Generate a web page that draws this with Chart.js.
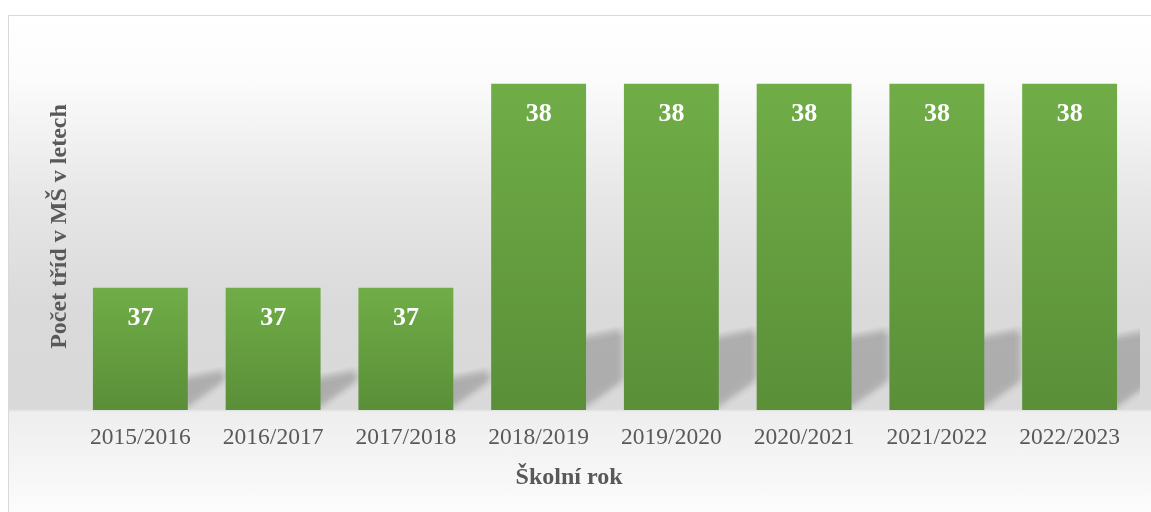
<!DOCTYPE html>
<html lang="cs">

<head>
    <meta charset="UTF-8">
    <title>Počet tříd v MŠ</title>
    <script src="https://cdn.jsdelivr.net/npm/chart.js"></script>
    <style>
        body { margin: 0; background: #fff; overflow: hidden; }
        #frame {
            position: absolute; left: 8px; top: 15px; width: 1200px; height: 560px;
            border: 1px solid #d9d9d9;
            background: linear-gradient(to bottom, #ffffff 0px, #fcfcfc 60px, #e6e6e6 185px,
                #dadada 290px, #d9d9d9 393px, #eeeeee 396px, #f4f4f4 440px, #fdfdfd 500px);
        }
        #wrap { position: absolute; left: 0; top: 0; width: 1151px; height: 512px; }
    </style>
</head>

<body>
    <div id="frame"></div>
    <div id="wrap"><canvas id="chart" width="1151" height="512"></canvas></div>

    <script>
        // data
        const years = ['2015/2016', '2016/2017', '2017/2018', '2018/2019', '2019/2020', '2020/2021', '2021/2022', '2022/2023'];
        const classCount = [37, 37, 37, 38, 38, 38, 38, 38];
        const yMin = 36.4;
        const yMax = 38.2;
        const xTitle = 'Školní rok';

        const textGray = '#595959';
        const serif = "'Liberation Serif', 'Times New Roman', serif";

        // soft perspective shadow behind each bar, blurred by stacking faint copies
        const barShadow = {
            id: 'barShadow',
            beforeDatasetsDraw(chart) {
                const ctx = chart.ctx;
                const meta = chart.getDatasetMeta(0);
                const area = chart.chartArea;
                ctx.save();
                ctx.beginPath();
                ctx.rect(area.left, area.top, area.right - area.left + 4, area.bottom - area.top);
                ctx.clip();
                ctx.fillStyle = 'rgba(120,120,120,0.017)';
                meta.data.forEach(bar => {
                    const right = bar.x + bar.width / 2;
                    const bottom = area.bottom;
                    const h = bottom - bar.y;
                    const a = h * 0.2 + 6;
                    for (let dx = -5; dx <= 5; dx += 2) {
                        for (let dy = -5; dy <= 5; dy += 2) {
                            ctx.beginPath();
                            ctx.moveTo(right - 4 + dx, bottom - a + dy);
                            ctx.lineTo(right + 36 + dx, bottom - a - 8 + dy);
                            ctx.lineTo(right + 36 + dx, bottom - 30 + dy);
                            ctx.lineTo(right - 4 + dx, bottom - 2 + dy);
                            ctx.closePath();
                            ctx.fill();
                        }
                    }
                });
                ctx.restore();
            }
        };

        // value labels inside the bars + x axis title (offset left like the original)
        const valueLabels = {
            id: 'valueLabels',
            afterDatasetsDraw(chart) {
                const ctx = chart.ctx;
                const meta = chart.getDatasetMeta(0);
                ctx.save();
                ctx.fillStyle = '#ffffff';
                ctx.font = 'bold 26px ' + serif;
                ctx.textAlign = 'center';
                ctx.textBaseline = 'alphabetic';
                meta.data.forEach((bar, i) => {
                    ctx.fillText(String(classCount[i]), bar.x, bar.y + 37);
                });
                ctx.fillStyle = textGray;
                ctx.font = 'bold 24px ' + serif;
                ctx.fillText(xTitle, 569, 484);
                ctx.restore();
            }
        };

        function barGradient(context) {
            const chart = context.chart;
            if (!chart.chartArea) return '#66a040';
            const y = chart.scales.y;
            const top = y.getPixelForValue(context.raw);
            const g = chart.ctx.createLinearGradient(0, top, 0, y.bottom);
            g.addColorStop(0, '#70ad47');
            g.addColorStop(1, '#5a8f38');
            return g;
        }

        new Chart(document.getElementById('chart'), {
            type: 'bar',
            data: {
                labels: years,
                datasets: [{
                    data: classCount,
                    backgroundColor: barGradient,
                    borderWidth: 0,
                    barPercentage: 0.715,
                    categoryPercentage: 1
                }]
            },
            plugins: [barShadow, valueLabels],
            options: {
                responsive: false,
                animation: false,
                layout: { padding: { top: 43, right: 15, left: 0, bottom: 0 } },
                plugins: { legend: { display: false }, tooltip: { enabled: false } },
                scales: {
                    x: {
                        grid: { display: false, drawTicks: false },
                        border: { display: false },
                        ticks: { color: textGray, font: { family: serif, size: 23.5 }, padding: 14 },
                        afterFit(scale) { scale.height = 102; }
                    },
                    y: {
                        min: yMin,
                        max: yMax,
                        grid: { display: false, drawTicks: false },
                        border: { display: false },
                        ticks: { display: false },
                        title: {
                            display: true, text: 'Počet tříd v MŠ v letech', color: textGray,
                            font: { family: serif, size: 24, weight: 'bold' },
                            padding: { top: 45, bottom: 0 }
                        },
                        afterFit(scale) { scale.width = 74; }
                    }
                }
            }
        });
    </script>
</body>

</html>
